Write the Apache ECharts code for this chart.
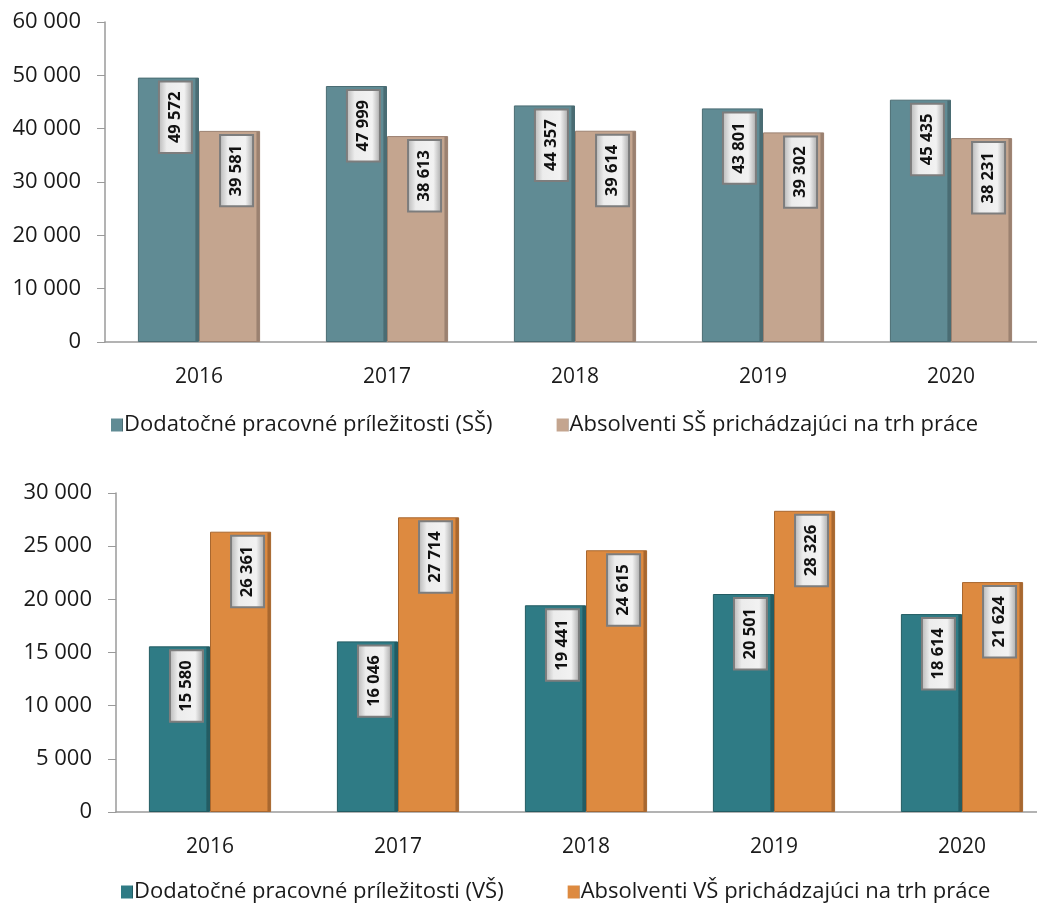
<!DOCTYPE html>
<html>
<head>
<meta charset="utf-8">
<script src="https://cdn.jsdelivr.net/npm/echarts@6/dist/echarts.min.js"></script>
<style>
  html, body { margin: 0; padding: 0; background: #fff; }
  #main { width: 1037px; height: 906px; }
</style>
</head>
<body>
<div id="main"></div>
<script>
// roky
var years = ['2016', '2017', '2018', '2019', '2020'];

// stredne skoly (SS)
var ssNames = ['Dodatočné pracovné príležitosti (SŠ)', 'Absolventi SŠ prichádzajúci na trh práce'];
var ssJobs = [49572, 47999, 44357, 43801, 45435];
var ssGrads = [39581, 38613, 39614, 39302, 38231];

// vysoke skoly (VS)
var vsNames = ['Dodatočné pracovné príležitosti (VŠ)', 'Absolventi VŠ prichádzajúci na trh práce'];
var vsJobs = [15580, 16046, 19441, 20501, 18614];
var vsGrads = [26361, 27714, 24615, 28326, 21624];

var font = 'Open Sans';

function fmt(v) {
    return String(v).replace(/\B(?=(\d{3})+(?!\d))/g, ' ');
}

// stlpec s tmavsim pruhom vpravo (3D efekt)
function barColor(main, dark) {
    return new echarts.graphic.LinearGradient(0, 0, 1, 0, [
        {offset: 0, color: main},
        {offset: 0.93, color: main},
        {offset: 0.95, color: dark},
        {offset: 1, color: dark}
    ]);
}

var labelBox = {
    show: true,
    position: 'insideTop',
    rotate: 90,
    align: 'right',
    verticalAlign: 'middle',
    offset: [0, 7],
    fontFamily: font,
    fontWeight: 'bold',
    fontSize: 16.5,
    color: '#111',
    padding: [8, 9, 6, 9],
    borderColor: '#7d7d7d',
    borderWidth: 2,
    backgroundColor: new echarts.graphic.LinearGradient(0, 0, 0, 1, [
        {offset: 0, color: '#b5b5b5'},
        {offset: 0.25, color: '#ececec'},
        {offset: 0.75, color: '#f2f2f2'},
        {offset: 1, color: '#a5a5a5'}
    ]),
    formatter: function (p) { return fmt(p.value); }
};

function mkSeries(name, data, xi, main, dark) {
    return {
        name: name,
        type: 'bar',
        xAxisIndex: xi,
        yAxisIndex: xi,
        data: data,
        barGap: '0%',
        barCategoryGap: '35%',
        itemStyle: {
            color: barColor(main, dark),
            borderColor: dark,
            borderWidth: 1
        },
        label: labelBox
    };
}

function xAx(gi) {
    return {
        type: 'category',
        gridIndex: gi,
        data: years,
        axisLine: {lineStyle: {color: '#9a9a9a', width: 1.5}},
        axisTick: {length: 7, lineStyle: {color: '#9a9a9a'}},
        axisLabel: {fontFamily: font, fontSize: 21, color: '#1a1a1a', margin: 25}
    };
}

function yAx(gi, max, step) {
    return {
        type: 'value',
        gridIndex: gi,
        min: 0,
        max: max,
        interval: step,
        splitLine: {show: false},
        axisLine: {show: true, lineStyle: {color: '#9a9a9a', width: 1.5}},
        axisTick: {show: true, length: 8, lineStyle: {color: '#9a9a9a'}},
        axisLabel: {fontFamily: font, fontSize: 22, color: '#1a1a1a', margin: 24,
            formatter: function (v) { return fmt(v); }}
    };
}

function mkLegend(names, top, left) {
    return {
        data: names,
        top: top,
        left: left,
        icon: 'rect',
        itemWidth: 12,
        itemHeight: 13,
        itemGap: 64,
        itemStyle: {borderWidth: 0},
        textStyle: {fontFamily: font, fontSize: 22, color: '#1a1a1a', padding: [0, 0, 0, -4]}
    };
}

var myChart = echarts.init(document.getElementById('main'));
var option = {
    animation: false,
    backgroundColor: '#fff',
    grid: [
        {left: 105, top: 22, width: 940, height: 320, outerBoundsMode: 'none'},
        {left: 116, top: 493, width: 940, height: 319, outerBoundsMode: 'none'}
    ],
    legend: [
        mkLegend(ssNames, 409, 106),
        mkLegend(vsNames, 876, 116)
    ],
    xAxis: [xAx(0), xAx(1)],
    yAxis: [yAx(0, 60000, 10000), yAx(1, 30000, 5000)],
    series: [
        mkSeries(ssNames[0], ssJobs, 0, '#608b94', '#4a6c73'),
        mkSeries(ssNames[1], ssGrads, 0, '#c4a58f', '#9b8170'),
        mkSeries(vsNames[0], vsJobs, 1, '#2f7b85', '#235c63'),
        mkSeries(vsNames[1], vsGrads, 1, '#dd8a40', '#a8672f')
    ]
};
myChart.setOption(option);
</script>
</body>
</html>
